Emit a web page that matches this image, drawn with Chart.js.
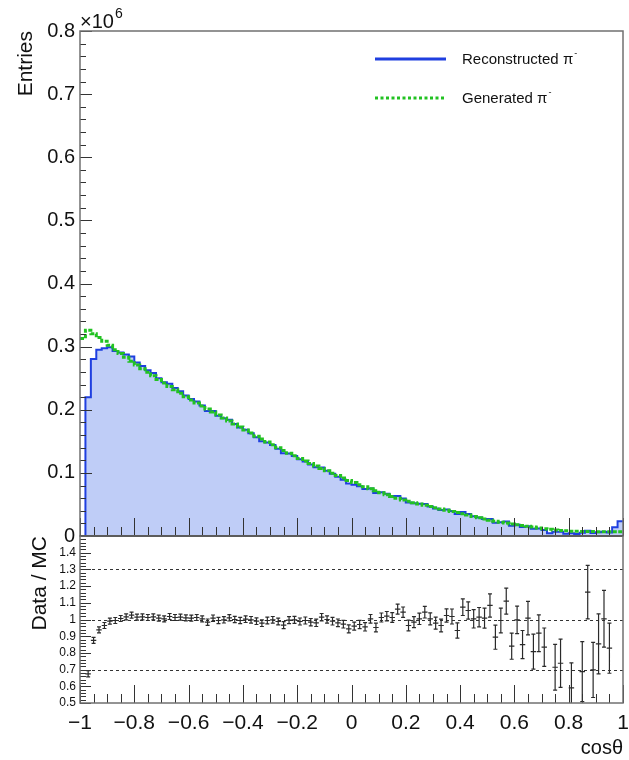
<!DOCTYPE html>
<html>
<head>
<meta charset="utf-8">
<script src="https://cdn.jsdelivr.net/npm/chart.js@4"></script>
<style>
  html, body { margin: 0; padding: 0; background: #fff; }
  #wrap { position: relative; width: 629px; height: 760px; }
  canvas { position: absolute; left: 0; top: 0; }
</style>
</head>
<body>
<div id="wrap">
  <canvas id="mainChart" width="629" height="760"></canvas>
  <canvas id="ratioChart" width="629" height="760"></canvas>
</div>
<script>
// 100 bins in cos(theta) from -1 to 1, values in units of 10^6 entries
const xMin = -1, xMax = 1, binWidth = 0.02;

const reconstructed = [
  0, 0.220, 0.2804, 0.295, 0.2974, 0.299, 0.2932, 0.2907, 0.2875, 0.2842,
  0.2748, 0.2692, 0.2626, 0.2581, 0.2500, 0.2435, 0.2413, 0.2343, 0.2292, 0.2227,
  0.2172, 0.2132, 0.2068, 0.1980, 0.1981, 0.1906, 0.1866, 0.1840, 0.1775, 0.1717,
  0.1683, 0.1627, 0.1564, 0.1501, 0.1481, 0.1442, 0.1383, 0.1309, 0.1305, 0.1267,
  0.1214, 0.1182, 0.1131, 0.1088, 0.1086, 0.1033, 0.0985, 0.0939, 0.0893, 0.0831,
  0.0812, 0.0789, 0.0746, 0.0751, 0.0682, 0.0693, 0.0668, 0.0633, 0.0634, 0.0595,
  0.0529, 0.0520, 0.0509, 0.0507, 0.0468, 0.0436, 0.0412, 0.0418, 0.0397, 0.0347,
  0.0380, 0.0350, 0.0311, 0.0293, 0.0270, 0.0269, 0.0208, 0.0218, 0.0228, 0.0161,
  0.0180, 0.0142, 0.0155, 0.0114, 0.0118, 0.0097, 0.0045, 0.0069, 0.0066, 0.0035,
  0.0045, 0.0030, 0.0050, 0.0083, 0.0049, 0.0059, 0.0068, 0.0056, 0.0140, 0.0235
];

const generated = [
  0.313, 0.326, 0.3205, 0.3145, 0.3085, 0.302, 0.295, 0.289, 0.283, 0.277,
  0.271, 0.265, 0.2595, 0.254, 0.248, 0.2425, 0.237, 0.2315, 0.226, 0.2205,
  0.2155, 0.2107, 0.206, 0.2012, 0.1965, 0.1917, 0.187, 0.1822, 0.1775, 0.1727,
  0.168, 0.163, 0.158, 0.1535, 0.149, 0.1445, 0.140, 0.1355, 0.131, 0.127,
  0.1229, 0.1189, 0.1149, 0.111, 0.1071, 0.1033, 0.0995, 0.0958, 0.0919, 0.088,
  0.0846, 0.0813, 0.078, 0.0748, 0.0716, 0.0685, 0.0655, 0.0625, 0.0597, 0.057,
  0.0549, 0.0528, 0.0507, 0.0486, 0.0466, 0.0446, 0.0427, 0.0408, 0.039, 0.0372,
  0.0354, 0.0332, 0.031, 0.0289, 0.0268, 0.0248, 0.0233, 0.0219, 0.0205, 0.0192,
  0.018, 0.0167, 0.0154, 0.0141, 0.0128, 0.0116, 0.0106, 0.0097, 0.0089, 0.0082,
  0.0077, 0.0074, 0.0072, 0.0071, 0.0070, 0.0069, 0.0068, 0.0068, 0.0068, 0.0069
];

// Data / MC, null = outside the 0.5 - 1.5 window
const ratio = [
  null, 0.675, 0.875, 0.938, 0.964, 0.990, 0.994, 1.006, 1.016, 1.026,
  1.014, 1.016, 1.012, 1.016, 1.008, 1.004, 1.018, 1.012, 1.014, 1.010,
  1.008, 1.012, 1.004, 0.984, 1.008, 0.994, 0.998, 1.010, 1.000, 0.994,
  1.002, 0.998, 0.990, 0.978, 0.994, 0.998, 0.988, 0.966, 0.996, 0.998,
  0.988, 0.994, 0.984, 0.980, 1.014, 1.000, 0.990, 0.980, 0.972, 0.944,
  0.960, 0.970, 0.956, 1.004, 0.952, 1.012, 1.020, 1.012, 1.062, 1.044,
  0.964, 0.984, 1.004, 1.044, 1.004, 0.978, 0.964, 1.024, 1.018, 0.934,
  1.074, 1.054, 1.004, 1.014, 1.008, 1.084, 0.894, 0.994, 1.110, 0.840,
  0.998, 0.850, 1.008, 0.808, 0.918, 0.834, null, 0.714, 0.738, null,
  0.590, null, 0.688, 1.164, 0.698, 0.854, 1.004, 0.828, null, null
];

const ratioErr = [
  0, 0.018, 0.018, 0.018, 0.018, 0.018, 0.018, 0.018, 0.018, 0.018,
  0.018, 0.018, 0.018, 0.018, 0.018, 0.018, 0.018, 0.018, 0.018, 0.018,
  0.018, 0.018, 0.018, 0.019, 0.019, 0.019, 0.019, 0.019, 0.019, 0.019,
  0.020, 0.020, 0.020, 0.020, 0.020, 0.020, 0.020, 0.021, 0.021, 0.021,
  0.021, 0.021, 0.022, 0.022, 0.022, 0.022, 0.023, 0.023, 0.023, 0.024,
  0.024, 0.025, 0.025, 0.026, 0.026, 0.027, 0.028, 0.029, 0.030, 0.031,
  0.032, 0.033, 0.034, 0.035, 0.036, 0.036, 0.038, 0.040, 0.045, 0.046,
  0.050, 0.052, 0.055, 0.058, 0.060, 0.070, 0.072, 0.074, 0.078, 0.078,
  0.082, 0.084, 0.100, 0.105, 0.110, 0.115, 0, 0.137, 0.145, 0,
  0.150, 0, 0.180, 0.160, 0.165, 0.180, 0.170, 0.150, 0, 0
];

const refLines = [0.7, 1.0, 1.3];
const xTickLabels = [-1, -0.8, -0.6, -0.4, -0.2, 0, 0.2, 0.4, 0.6, 0.8, 1];

const FONT = '"Liberation Sans", Arial, Helvetica, sans-serif';
const fmtNum = v => {
  const r = Math.round(v * 10) / 10;
  if (r === 0) return '0';
  const s = Number.isInteger(r) ? String(r) : r.toFixed(1);
  return s.replace('-', '\u2212');
};

// histogram points at bin left edges (+ closing point at xMax)
function histPoints(vals) {
  const pts = vals.map((v, i) => ({ x: xMin + i * binWidth, y: v }));
  pts.push({ x: xMax, y: vals[vals.length - 1] });
  return pts;
}

function rangeSteps(a, b, step) {
  const out = [];
  const n = Math.round((b - a) / step);
  for (let i = 0; i <= n; i++) out.push(a + i * step);
  return out;
}

// ROOT-like inner ticks + frame
function drawInnerTicks(chart, yMajor, yMinor, yLen) {
  const { ctx, chartArea: a, scales: { x, y } } = chart;
  ctx.save();
  ctx.strokeStyle = '#333';
  ctx.lineWidth = 1;
  ctx.beginPath();
  rangeSteps(y.min, y.max, yMinor).forEach(v => {
    const py = Math.round(y.getPixelForValue(v)) + 0.5;
    const isMajor = Math.abs(v / yMajor - Math.round(v / yMajor)) < 1e-6;
    ctx.moveTo(a.left, py);
    ctx.lineTo(a.left + (isMajor ? yLen[0] : yLen[1]), py);
  });
  rangeSteps(xMin, xMax, 0.05).forEach(v => {
    const px = Math.round(x.getPixelForValue(v)) + 0.5;
    const isMajor = Math.abs(v / 0.2 - Math.round(v / 0.2)) < 1e-6;
    ctx.moveTo(px, a.bottom);
    ctx.lineTo(px, a.bottom - (isMajor ? 18 : 9));
  });
  ctx.stroke();
  ctx.strokeStyle = '#707070';
  ctx.lineWidth = 1.5;
  ctx.strokeRect(a.left, a.top, a.right - a.left, a.bottom - a.top);
  ctx.restore();
}

const mainDecor = {
  id: 'mainDecor',
  afterDatasetsDraw(chart) {
    drawInnerTicks(chart, 0.1, 0.02, [12, 6]);
    const { ctx, chartArea: a } = chart;
    ctx.save();
    ctx.strokeStyle = '#222';
    ctx.lineWidth = 2;
    ctx.beginPath();
    ctx.moveTo(a.left, a.bottom);
    ctx.lineTo(a.right, a.bottom);
    ctx.stroke();
    // x10^6
    ctx.fillStyle = '#111';
    ctx.textBaseline = 'alphabetic';
    ctx.textAlign = 'left';
    ctx.font = '20px ' + FONT;
    ctx.fillText('\u00d710', 80, 28);
    const w = ctx.measureText('\u00d710').width;
    ctx.font = '14px ' + FONT;
    ctx.fillText('6', 80 + w + 1, 18);
    // legend
    ctx.lineWidth = 3;
    ctx.strokeStyle = '#1f3fe0';
    ctx.beginPath();
    ctx.moveTo(375, 59); ctx.lineTo(446, 59);
    ctx.stroke();
    ctx.strokeStyle = '#22c222';
    ctx.setLineDash([3, 2.5]);
    ctx.beginPath();
    ctx.moveTo(375, 98); ctx.lineTo(446, 98);
    ctx.stroke();
    ctx.setLineDash([]);
    const entries = [['Reconstructed \u03c0', 64], ['Generated \u03c0', 103]];
    entries.forEach(([t, yy]) => {
      ctx.font = '15px ' + FONT;
      ctx.fillText(t, 462, yy);
      const tw = ctx.measureText(t).width;
      ctx.font = '9px ' + FONT;
      ctx.fillText('-', 462 + tw + 1, yy - 8);
    });
    ctx.restore();
  }
};

const ratioDecor = {
  id: 'ratioDecor',
  beforeDatasetsDraw(chart) {
    const { ctx, chartArea: a, scales: { y } } = chart;
    ctx.save();
    ctx.strokeStyle = '#333';
    ctx.lineWidth = 1;
    ctx.setLineDash([3, 3]);
    refLines.forEach(v => {
      const py = Math.round(y.getPixelForValue(v)) + 0.5;
      ctx.beginPath();
      ctx.moveTo(a.left, py); ctx.lineTo(a.right, py);
      ctx.stroke();
    });
    ctx.restore();
  },
  afterDatasetsDraw(chart) {
    const { ctx, chartArea: a, scales: { x, y } } = chart;
    const meta = chart.getDatasetMeta(0);
    const pts = chart.data.datasets[0].data;
    ctx.save();
    ctx.beginPath();
    ctx.rect(a.left, a.top, a.right - a.left, a.bottom - a.top);
    ctx.clip();
    ctx.strokeStyle = '#2a2a2a';
    ctx.lineWidth = 1.2;
    ctx.beginPath();
    meta.data.forEach((el, k) => {
      const p = pts[k];
      const x0 = x.getPixelForValue(p.x - binWidth / 2);
      const x1 = x.getPixelForValue(p.x + binWidth / 2);
      const yHi = y.getPixelForValue(p.y + p.err);
      const yLo = y.getPixelForValue(p.y - p.err);
      ctx.moveTo(x0, el.y); ctx.lineTo(x1, el.y);
      ctx.moveTo(el.x, yHi); ctx.lineTo(el.x, yLo);
      ctx.moveTo(el.x - 2, yHi); ctx.lineTo(el.x + 2, yHi);
      ctx.moveTo(el.x - 2, yLo); ctx.lineTo(el.x + 2, yLo);
    });
    ctx.stroke();
    ctx.restore();
    drawInnerTicks(chart, 0.1, 0.02, [11, 6]);
  }
};

new Chart(document.getElementById('mainChart'), {
  type: 'line',
  data: {
    datasets: [
      {
        label: 'Reconstructed \u03c0-',
        data: histPoints(reconstructed),
        stepped: 'before',
        borderColor: '#1f3fe0',
        borderWidth: 2,
        backgroundColor: '#bfcdf7',
        fill: 'origin',
        pointRadius: 0,
        order: 2
      },
      {
        label: 'Generated \u03c0-',
        data: histPoints(generated),
        stepped: 'before',
        borderColor: '#22c222',
        borderWidth: 3,
        borderDash: [4, 1.5],
        fill: false,
        pointRadius: 0,
        order: 1
      }
    ]
  },
  options: {
    responsive: false,
    animation: false,
    events: [],
    layout: { padding: { left: 0, top: 31, right: 6, bottom: 224 } },
    plugins: { legend: { display: false }, tooltip: { enabled: false } },
    scales: {
      x: { type: 'linear', min: xMin, max: xMax, display: false },
      y: {
        min: 0,
        max: 0.8,
        afterFit: s => { s.width = 80; },
        grid: { display: false, drawTicks: false },
        border: { display: false },
        ticks: {
          stepSize: 0.1,
          padding: 5,
          color: '#111',
          font: { family: FONT, size: 20 },
          callback: v => fmtNum(v)
        },
        title: {
          display: true,
          text: 'Entries',
          align: 'end',
          color: '#111',
          font: { family: FONT, size: 21 },
          padding: { top: 14, bottom: 0 }
        }
      }
    }
  },
  plugins: [mainDecor]
});

const ratioPoints = [];
ratio.forEach((r, i) => {
  if (r !== null) ratioPoints.push({ x: xMin + (i + 0.5) * binWidth, y: r, err: ratioErr[i] });
});

new Chart(document.getElementById('ratioChart'), {
  type: 'scatter',
  data: {
    datasets: [{
      label: 'Data / MC',
      data: ratioPoints,
      pointRadius: 0,
      showLine: false
    }]
  },
  options: {
    responsive: false,
    animation: false,
    events: [],
    layout: { padding: { left: 0, top: 536, right: 6, bottom: 0 } },
    plugins: { legend: { display: false }, tooltip: { enabled: false } },
    scales: {
      x: {
        type: 'linear',
        min: xMin,
        max: xMax,
        afterFit: s => { s.height = 57; s.paddingLeft = 0; s.paddingRight = 0; },
        afterBuildTicks: s => { s.ticks = xTickLabels.map(v => ({ value: v })); },
        grid: { display: false, drawTicks: false },
        border: { display: false },
        ticks: {
          padding: 8,
          maxRotation: 0,
          autoSkip: false,
          color: '#111',
          font: { family: FONT, size: 21 },
          callback: v => fmtNum(v)
        },
        title: {
          display: true,
          text: 'cos\u03b8',
          align: 'end',
          color: '#111',
          font: { family: FONT, size: 20 },
          padding: { top: 0, bottom: 0 }
        }
      },
      y: {
        min: 0.5,
        max: 1.5,
        afterFit: s => { s.width = 80; },
        grid: { display: false, drawTicks: false },
        border: { display: false },
        ticks: {
          stepSize: 0.1,
          autoSkip: false,
          padding: 4,
          color: '#111',
          font: { family: FONT, size: 12 },
          callback: v => (Math.round(v * 10) / 10 >= 1.5 ? '' : fmtNum(v))
        },
        title: {
          display: true,
          text: 'Data / MC',
          align: 'end',
          color: '#111',
          font: { family: FONT, size: 21 },
          padding: { top: 28, bottom: 0 }
        }
      }
    }
  },
  plugins: [ratioDecor]
});
</script>
</body>
</html>
